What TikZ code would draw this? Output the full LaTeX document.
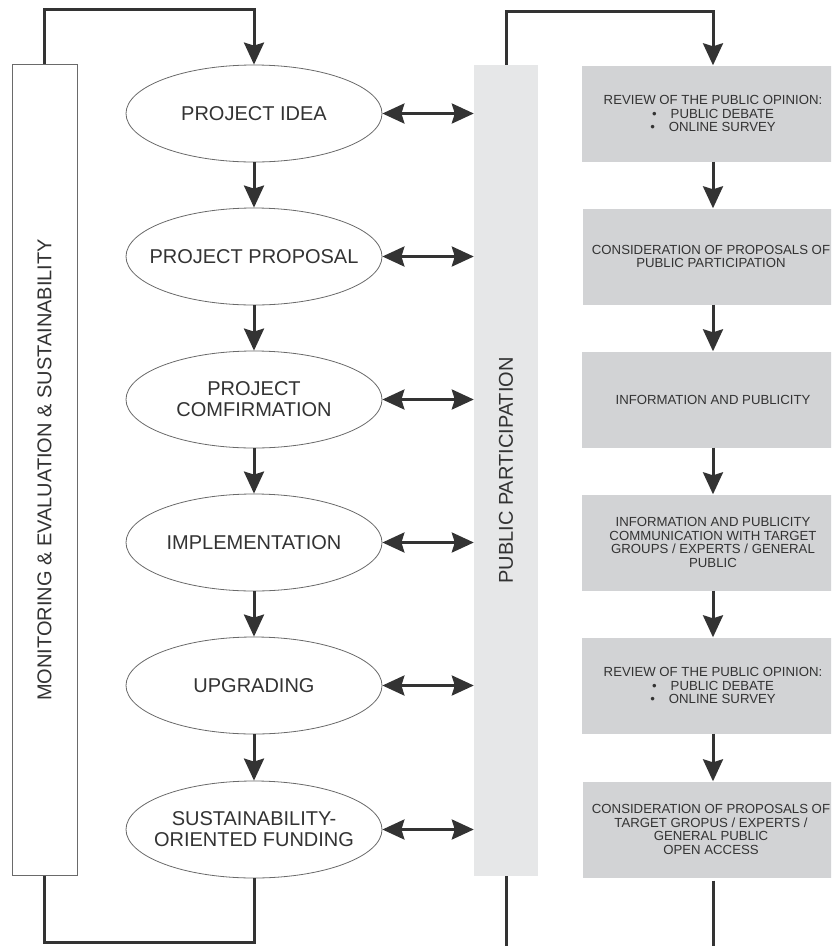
\documentclass[tikz,border=0pt]{standalone}
\usepackage{fontspec}
\setmainfont{Liberation Sans}
\usepackage{xcolor}
\usetikzlibrary{arrows.meta,shapes.geometric}
\definecolor{inkgrey}{HTML}{333333}
\definecolor{edgegrey}{HTML}{6A6A6A}
\definecolor{bandgrey}{HTML}{E6E7E8}
\definecolor{boxgrey}{HTML}{D2D3D5}
\tikzset{
  phase/.style={
    ellipse, draw=edgegrey, line width=0.8pt, fill=white,
    minimum width=256, minimum height=97, inner xsep=-22pt, inner ysep=0pt,
    align=center, text=inkgrey, font=\fontsize{20}{21}\selectfont
  },
  infobox/.style={
    rectangle, fill=boxgrey, minimum width=262, minimum height=96,
    inner sep=0pt, align=center, text=inkgrey,
    font=\fontsize{13.2}{13.4}\selectfont
  },
  band/.style={
    rectangle, minimum height=811, inner sep=0pt,
    text=inkgrey, font=\fontsize{20}{21}\selectfont
  },
  flow/.style={draw=inkgrey, line width=3pt}
}

\begin{document}
\begin{tikzpicture}[x=1pt,y=-1pt,>={Stealth[length=22pt,width=20pt,inset=3pt]}]
    \clip (0,0) rectangle (831,946);
    \begin{scope}
        \node[band, draw=edgegrey, line width=0.8pt, fill=white, minimum width=65] (mebox) at (44.5,470) {\rotatebox{90}{MONITORING \& EVALUATION \& SUSTAINABILITY}};
        \node[band, fill=bandgrey, minimum width=64] (pp) at (506,470.5) {\rotatebox{90}{PUBLIC PARTICIPATION}};

        \node[phase] (idea) at (254,113.5) {PROJECT IDEA};
        \node[phase] (proposal) at (254,256.5) {PROJECT PROPOSAL};
        \node[phase] (confirm) at (254,399.5) {PROJECT\\COMFIRMATION};
        \node[phase] (implement) at (254,542.5) {IMPLEMENTATION};
        \node[phase] (upgrade) at (254,685.5) {UPGRADING};
        \node[phase] (funding) at (254,829.5) {SUSTAINABILITY-\\ORIENTED FUNDING};

        \node[infobox] (review) at (713,113.5) {REVIEW OF THE PUBLIC OPINION:\\\textbullet\hspace{14pt}PUBLIC DEBATE\\\textbullet\hspace{14pt}ONLINE SURVEY};
        \node[infobox, minimum width=256] (consider) at (711,256.5) {CONSIDERATION OF PROPOSALS OF\\PUBLIC PARTICIPATION};
        \node[infobox] (inform) at (713,399.5) {INFORMATION AND PUBLICITY};
        \node[infobox] (communicate) at (713,542.5) {INFORMATION AND PUBLICITY\\COMMUNICATION WITH TARGET\\GROUPS / EXPERTS / GENERAL\\PUBLIC};
        \node[infobox] (rereview) at (713,685.5) {REVIEW OF THE PUBLIC OPINION:\\\textbullet\hspace{14pt}PUBLIC DEBATE\\\textbullet\hspace{14pt}ONLINE SURVEY};
        \node[infobox, minimum width=256] (access) at (711,829.5) {CONSIDERATION OF PROPOSALS OF\\TARGET GROPUS / EXPERTS /\\GENERAL PUBLIC\\OPEN ACCESS};
    \end{scope}
    \coordinate (ppend) at (506,946);
    \coordinate (accessend) at (713,946);
    \begin{scope}[every path/.style={flow}]
        % left loop
        \draw[->] (mebox.north) -- ++(0,-55) -| (idea.north);
        \draw (mebox.south) -- ++(0,67) -| (funding.south);
        % project stages
        \draw[->] (idea) -- (proposal);
        \draw[->] (proposal) -- (confirm);
        \draw[->] (confirm) -- (implement);
        \draw[->] (implement) -- (upgrade);
        \draw[->] (upgrade) -- (funding);
        % participation links
        \foreach \stage in {idea,proposal,confirm,implement,upgrade,funding}
            \draw[<->] (\stage.east) -- (\stage.east -| pp.west);
        % right column
        \draw[->] (pp.north) -- ++(0,-53) -| (review.north -| accessend);
        \draw[->] (review.south -| accessend) -- (consider.north -| accessend);
        \draw[->] (consider.south -| accessend) -- (inform.north -| accessend);
        \draw[->] (inform) -- (communicate);
        \draw[->] (communicate) -- (rereview);
        \draw[->] (rereview.south -| accessend) -- (access.north -| accessend);
        \draw (pp.south) -- (ppend);
        \draw[shorten <=3pt] (access.south -| accessend) -- (accessend);
    \end{scope}
\end{tikzpicture}
\end{document}
